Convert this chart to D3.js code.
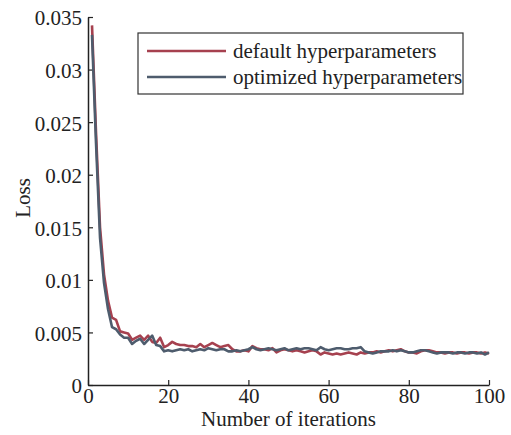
<!DOCTYPE html>
<html>
<head>
<meta charset="utf-8">
<script src="https://cdn.jsdelivr.net/npm/d3@7"></script>
<style>
  body { margin: 0; background: #fff; }
  text { font-family: "Liberation Serif", "Times New Roman", serif; fill: #222; }
</style>
</head>
<body>
<svg id="chart" width="511" height="435"></svg>
<script>
// loss per iteration
const iterations = d3.range(1, 101);
const defaultLoss = [
  0.0342, 0.0240, 0.0150, 0.0105, 0.0080, 0.0064, 0.0062, 0.0051, 0.0050, 0.0049,
  0.0043, 0.0045, 0.0047, 0.0043, 0.0047, 0.0041, 0.0040, 0.0045, 0.0036, 0.0038,
  0.0041, 0.0039, 0.0038, 0.0038, 0.0037, 0.0037, 0.0036, 0.0039, 0.0036, 0.0038,
  0.0040, 0.0038, 0.0036, 0.0037, 0.0038, 0.0034, 0.0032, 0.0032, 0.0033, 0.0032,
  0.0037, 0.0035, 0.0034, 0.0034, 0.0033, 0.0035, 0.0031, 0.0033, 0.0034, 0.0033,
  0.0032, 0.0033, 0.0032, 0.0031, 0.0032, 0.0033, 0.0032, 0.0029, 0.0031, 0.0030,
  0.0029, 0.0030, 0.0029, 0.0030, 0.0031, 0.0030, 0.0029, 0.0031, 0.0030, 0.0031,
  0.0031, 0.0032, 0.0031, 0.0032, 0.0033, 0.0032, 0.0033, 0.0034, 0.0032, 0.0031,
  0.0031, 0.0030, 0.0032, 0.0033, 0.0033, 0.0032, 0.0031, 0.0031, 0.0030, 0.0031,
  0.0031, 0.0030, 0.0031, 0.0031, 0.0030, 0.0031, 0.0031, 0.0030, 0.0031, 0.0030
];
const optimizedLoss = [
  0.0333, 0.0230, 0.0140, 0.0097, 0.0072, 0.0055, 0.0053, 0.0048, 0.0045, 0.0045,
  0.0039, 0.0042, 0.0044, 0.0039, 0.0043, 0.0047, 0.0038, 0.0037, 0.0032, 0.0033,
  0.0032, 0.0033, 0.0034, 0.0033, 0.0034, 0.0032, 0.0033, 0.0034, 0.0033, 0.0035,
  0.0034, 0.0033, 0.0034, 0.0034, 0.0032, 0.0032, 0.0033, 0.0032, 0.0033, 0.0034,
  0.0036, 0.0034, 0.0033, 0.0034, 0.0035, 0.0034, 0.0033, 0.0034, 0.0035, 0.0033,
  0.0034, 0.0035, 0.0034, 0.0035, 0.0035, 0.0034, 0.0033, 0.0036, 0.0034, 0.0033,
  0.0034, 0.0035, 0.0035, 0.0034, 0.0034, 0.0035, 0.0035, 0.0036, 0.0032, 0.0031,
  0.0030, 0.0031, 0.0032, 0.0032, 0.0032, 0.0033, 0.0032, 0.0033, 0.0032, 0.0031,
  0.0031, 0.0032, 0.0033, 0.0033, 0.0032, 0.0031, 0.0030, 0.0031, 0.0031, 0.0031,
  0.0030, 0.0031, 0.0031, 0.0030, 0.0031, 0.0031, 0.0030, 0.0031, 0.0029, 0.0031
];
const xTicks = [0, 20, 40, 60, 80, 100];
const yTicks = [0, 0.005, 0.01, 0.015, 0.02, 0.025, 0.03, 0.035];
const seriesNames = ["default hyperparameters", "optimized hyperparameters"];
const seriesColors = ["#a6414f", "#4e5c6d"];

const svg = d3.select("#chart");
const margin = { left: 88, right: 22, top: 17, bottom: 50 };
const width = 511, height = 435;
const fontSize = 21;

const x = d3.scaleLinear().domain([0, 100]).range([margin.left, width - margin.right]);
const y = d3.scaleLinear().domain([0, 0.035]).range([height - margin.bottom, margin.top]);

// axes, ticks pointing inward
const xAxis = svg.append("g")
  .attr("transform", `translate(0,${y(0)})`)
  .call(d3.axisBottom(x).tickValues(xTicks).tickSizeInner(-5).tickSizeOuter(0).tickPadding(3)
    .tickFormat(d3.format("d")));
const yAxis = svg.append("g")
  .attr("transform", `translate(${x(0)},0)`)
  .call(d3.axisLeft(y).tickValues(yTicks).tickSizeInner(-5).tickSizeOuter(0).tickPadding(6)
    .tickFormat(d => d === 0 ? "0" : d3.format("")(+d.toFixed(3))));

[xAxis, yAxis].forEach(g => {
  g.select(".domain").attr("stroke", "#222").attr("stroke-width", 1.5);
  g.selectAll(".tick line").attr("stroke", "#222").attr("stroke-width", 1.2);
  g.selectAll(".tick text").attr("font-size", fontSize).attr("fill", "#222")
    .style("font-family", '"Liberation Serif", serif');
});
yAxis.selectAll(".tick text").attr("dy", "0.38em");

// axis titles
svg.append("text")
  .attr("x", (x(0) + x(100)) / 2).attr("y", 426)
  .attr("text-anchor", "middle").attr("font-size", fontSize)
  .text("Number of iterations");
svg.append("text")
  .attr("transform", `translate(30,198) rotate(-90)`)
  .attr("text-anchor", "middle").attr("font-size", fontSize)
  .text("Loss");

// lines
const line = d3.line().x((d, i) => x(iterations[i])).y(d => y(d));
[defaultLoss, optimizedLoss].forEach((vals, k) => {
  svg.append("path")
    .datum(vals)
    .attr("fill", "none")
    .attr("stroke", seriesColors[k])
    .attr("stroke-width", 2.6)
    .attr("stroke-linejoin", "round")
    .attr("d", line);
});

// legend
const legend = svg.append("g");
legend.append("rect")
  .attr("x", 138).attr("y", 33).attr("width", 325).attr("height", 61)
  .attr("fill", "#fff").attr("stroke", "#333").attr("stroke-width", 1.2);
seriesNames.forEach((name, k) => {
  const ly = 51 + k * 26;
  legend.append("line")
    .attr("x1", 147).attr("x2", 226).attr("y1", ly).attr("y2", ly)
    .attr("stroke", seriesColors[k]).attr("stroke-width", 2.6);
  legend.append("text")
    .attr("x", 233).attr("y", ly).attr("dy", "0.32em")
    .attr("font-size", fontSize)
    .text(name);
});
</script>
</body>
</html>
